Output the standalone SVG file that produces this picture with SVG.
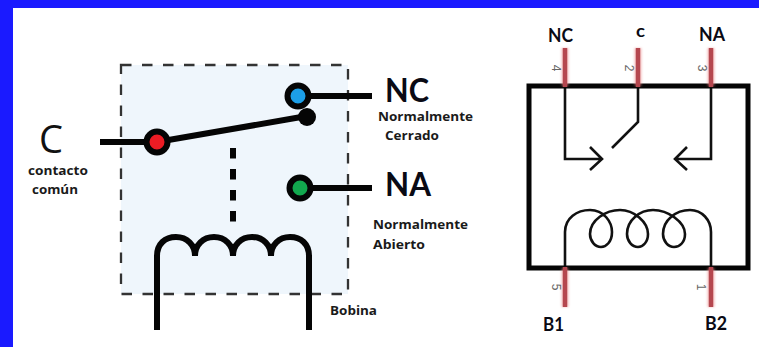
<svg xmlns="http://www.w3.org/2000/svg" width="759" height="347" viewBox="0 0 759 347">
<style>
.w{fill:none;stroke:#050505;stroke-width:6}
.t{fill:none;stroke:#111;stroke-width:2.6}
.pin{stroke:#b5474f;stroke-width:4.5}
.halo{stroke:#e88;stroke-width:7;opacity:.55;filter:url(#b)}
.big{font-family:Lato,"Open Sans",sans-serif;font-weight:700;fill:#0a0a14}
.sm{font-family:"Open Sans","Noto Sans",sans-serif;font-weight:700;font-size:13px;fill:#1a1a1a}
.num{font-family:"Liberation Sans",sans-serif;font-size:12px;fill:#666}
.dot{stroke:#050505;stroke-width:6}
</style>
<defs><filter id="b" x="-300%" y="-20%" width="700%" height="140%"><feGaussianBlur stdDeviation="1.2"/></filter></defs>
<rect width="759" height="347" fill="#fff"/>
<path d="M0 0H759V8H13V347H0Z" fill="#1a1aff"/>
<g id="relay-box"><rect x="121" y="65" width="227" height="229" fill="#eff6fc" stroke="#333" stroke-width="2.300" stroke-dasharray="10.500 10.500"/></g>
<g id="connectors">
<path class="w" d="M100 142H157L307 116"/>
<path class="w" d="M298 96H372M300 188H372"/>
<path class="w" d="M233 148V222" style="stroke-dasharray:10.500 10.500"/>
<path class="w" d="M157 330V256C157 244 165 237 176 237C187 237 195 245 195 256C195 245 203 237 214 237C225 237 233 245 233 256C233 245 241 237 252 237C263 237 271 245 271 256C271 245 279 237 290 237C301 237 309 244 309 256V330"/>
<path class="t" d="M565 86V159H601M590 147L602 159L590 170"/>
<path class="t" d="M711 86V159H676M687 147L675 159L687 170"/>
<path class="t" d="M638 86V122L612 148"/>
<path class="t" d="M565 268V232C565 218 577 210 590 210C604 210 612 222 612 232C612 242 606 247 601 247C595 247 590 241 590 234C590 220 606 210 620 210C634 210 648 222 648 234C648 242 643 247 638 247C632 247 627 241 627 234C627 220 640 210 653 210C668 210 685 222 685 234C685 242 680 247 674 247C668 247 663 241 663 234C663 220 676 210 690 210C702 210 711 220 711 232V268"/>
</g>
<g id="node-c"><circle class="dot" cx="157" cy="142" r="10.500" fill="#ed1c24"/>
<text x="39" y="153" font-family="'Open Sans',sans-serif" font-size="38" fill="#111" textLength="24" lengthAdjust="spacingAndGlyphs">C</text>
<text class="sm" x="28" y="175" textLength="60" lengthAdjust="spacingAndGlyphs">contacto</text>
<text class="sm" x="32" y="194" textLength="46" lengthAdjust="spacingAndGlyphs">común</text></g>
<g id="node-nc"><circle class="dot" cx="298" cy="96" r="10.500" fill="#1c9fe8"/>
<text class="big" x="385" y="102" font-size="33" textLength="44" lengthAdjust="spacingAndGlyphs">NC</text>
<text class="sm" x="378" y="121" textLength="95" lengthAdjust="spacingAndGlyphs">Normalmente</text>
<text class="sm" x="385" y="140" textLength="54" lengthAdjust="spacingAndGlyphs">Cerrado</text></g>
<g id="node-contact"><circle cx="307" cy="117" r="9" fill="#050505"/></g>
<g id="node-na"><circle class="dot" cx="300" cy="188" r="10.500" fill="#12a84e"/>
<text class="big" x="385" y="196" font-size="33" textLength="46" lengthAdjust="spacingAndGlyphs">NA</text>
<text class="sm" x="373" y="229" textLength="95" lengthAdjust="spacingAndGlyphs">Normalmente</text>
<text class="sm" x="373" y="249" textLength="52" lengthAdjust="spacingAndGlyphs">Abierto</text></g>
<g id="node-bobina"><text class="sm" x="330" y="315" textLength="47" lengthAdjust="spacingAndGlyphs">Bobina</text></g>
<g id="relay-symbol"><rect x="529" y="86" width="219" height="182" fill="none" stroke="#050505" stroke-width="5"/></g>
<g id="pins">
<path class="halo" d="M565 48V86M638 48V86M711 48V86M565 268V307M711 268V307"/>
<path class="pin" d="M565 48V87M638 48V87M711 48V87M565 267V307M711 267V307"/>
<text class="num" transform="translate(552 68) rotate(90)" text-anchor="middle">4</text>
<text class="num" transform="translate(625 68) rotate(90)" text-anchor="middle">2</text>
<text class="num" transform="translate(698 68) rotate(90)" text-anchor="middle">3</text>
<text class="num" transform="translate(552 287) rotate(90)" text-anchor="middle">5</text>
<text class="num" transform="translate(697 287) rotate(90)" text-anchor="middle">1</text>
</g>
<g id="pin-labels" class="big">
<text x="548" y="42" font-size="19" textLength="25" lengthAdjust="spacingAndGlyphs">NC</text>
<text x="636" y="37" font-size="17" textLength="9" lengthAdjust="spacingAndGlyphs">c</text>
<text x="699" y="41" font-size="19" textLength="26" lengthAdjust="spacingAndGlyphs">NA</text>
<text x="543" y="331" font-size="19" textLength="21" lengthAdjust="spacingAndGlyphs">B1</text>
<text x="705" y="330" font-size="19" textLength="22" lengthAdjust="spacingAndGlyphs">B2</text>
</g>
</svg>
